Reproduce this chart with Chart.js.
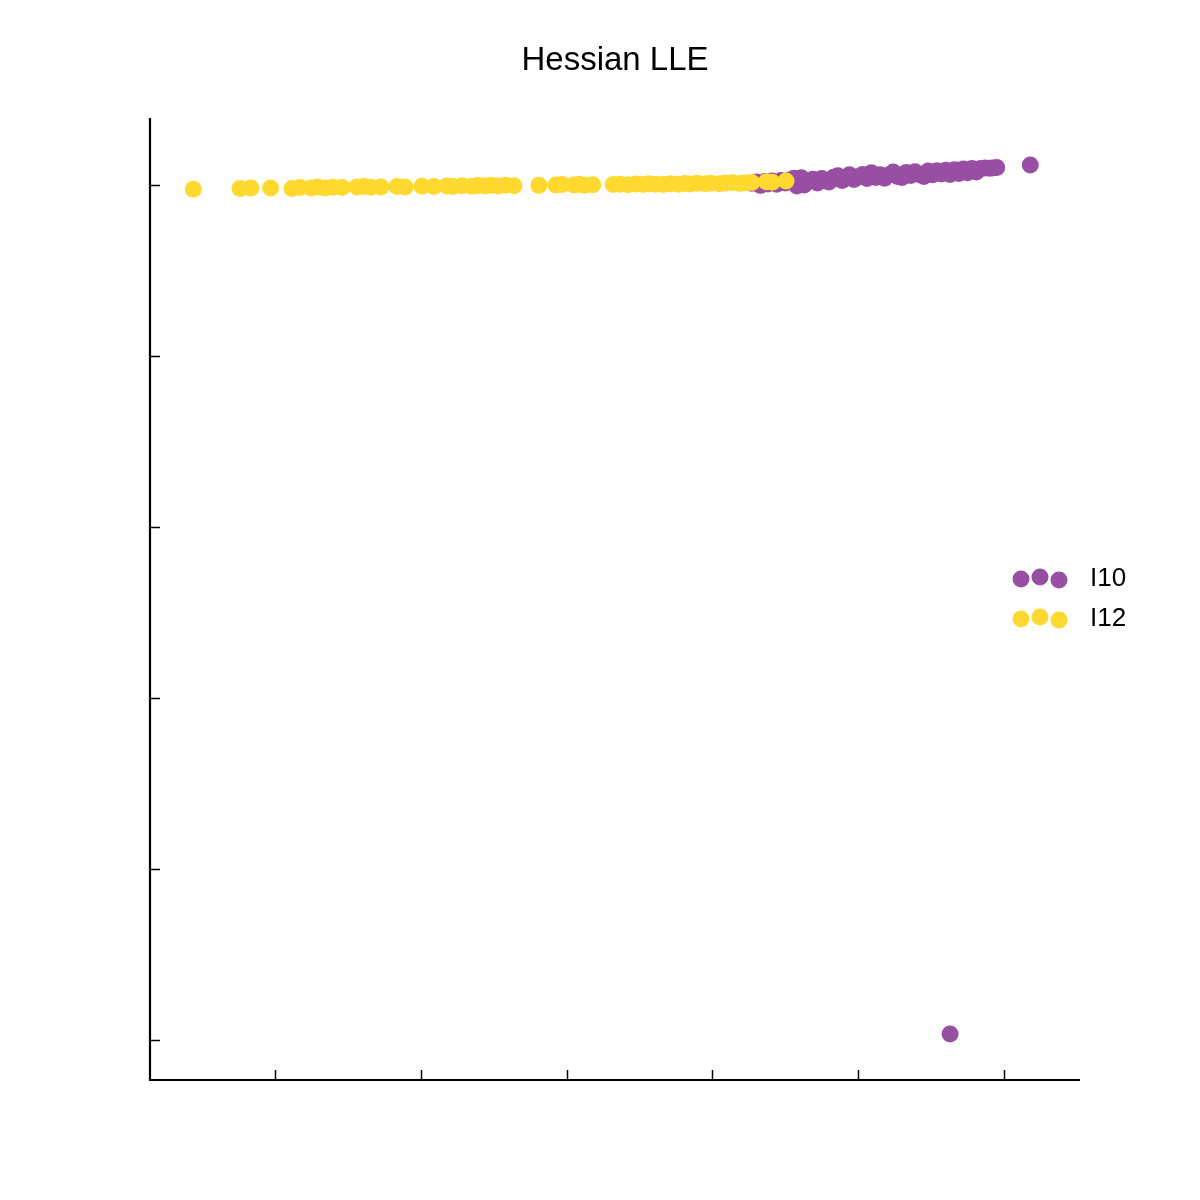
<!DOCTYPE html>
<html>
<head>
<meta charset="utf-8">
<script src="https://cdn.jsdelivr.net/npm/chart.js@4.4.0/dist/chart.umd.min.js"></script>
<style>
  html, body { margin: 0; padding: 0; background: #fff; }
  #wrap { width: 1200px; height: 1200px; }
</style>
</head>
<body>
<div id="wrap"><canvas id="lleChart" width="1200" height="1200"></canvas></div>
<script>
const titulo = "Hessian LLE";
const nombres = ["I10", "I12"];
const colores = ["#984ea3", "#ffd92f"];
const ticksX = [0, 1, 2, 3, 4, 5];
const ticksY = [0, 1, 2, 3, 4, 5];

// I10 (morado)
const i10X = [3.27, 3.30, 3.33, 3.36, 3.38, 3.41, 3.44, 3.47, 3.50, 3.53,
  3.56, 3.58, 3.61, 3.63, 3.66, 3.69, 3.72, 3.75, 3.78, 3.80,
  3.83, 3.86, 3.89, 3.92, 3.94, 3.97, 4.00, 4.03, 4.06, 4.09,
  4.12, 4.15, 4.18, 4.21, 4.24, 4.27, 4.30, 4.33, 4.36, 4.39,
  4.42, 4.45, 4.48, 4.51, 4.54, 4.57, 4.60, 4.63, 4.66, 4.69,
  4.72, 4.75, 4.78, 4.81, 4.84, 4.87, 4.90, 4.92, 4.95, 5.18, 4.63];
const i10Y = [5.010, 5.018, 4.998, 5.020, 5.006, 5.024, 5.004, 5.026, 5.012, 5.030,
  5.040, 4.995, 5.042, 5.000, 5.022, 5.034, 5.012, 5.038, 5.024, 5.018,
  5.046, 5.054, 5.026, 5.042, 5.060, 5.032, 5.048, 5.062, 5.038, 5.072,
  5.044, 5.060, 5.040, 5.058, 5.076, 5.050, 5.044, 5.074, 5.056, 5.078,
  5.062, 5.050, 5.082, 5.060, 5.084, 5.064, 5.086, 5.062, 5.090, 5.068,
  5.094, 5.072, 5.096, 5.076, 5.096, 5.100, 5.098, 5.100, 5.102, 5.117, 0.035];

// I12 (amarillo)
const i12X = [-0.56, -0.24, -0.165, -0.03, 0.117, 0.171, 0.247, 0.295, 0.343, 0.398,
  0.46, 0.562, 0.61, 0.658, 0.727, 0.837, 0.892, 1.008, 1.09, 1.18,
  1.22, 1.283, 1.35, 1.39, 1.44, 1.48, 1.53, 1.58, 1.64, 1.81,
  1.927, 1.97, 2.05, 2.085, 2.126, 2.18, 2.32, 2.366, 2.42, 2.476,
  2.524, 2.565, 2.613, 2.66, 2.71, 2.764, 2.81, 2.846, 2.894, 2.95,
  2.99, 3.05, 3.09, 3.14, 3.19, 3.23, 3.27, 3.37, 3.41, 3.505];
const i12Y = [4.975, 4.980, 4.982, 4.982, 4.980, 4.985, 4.982, 4.988, 4.983, 4.987,
  4.985, 4.989, 4.991, 4.987, 4.988, 4.992, 4.989, 4.993, 4.991, 4.995,
  4.992, 4.996, 4.993, 4.997, 4.994, 4.998, 4.995, 4.999, 4.996, 4.998,
  5.000, 5.003, 5.000, 5.004, 4.999, 5.002, 5.003, 5.005, 5.001, 5.006,
  5.003, 5.007, 5.004, 5.003, 5.008, 5.005, 5.009, 5.006, 5.010, 5.007,
  5.011, 5.008, 5.012, 5.013, 5.009, 5.014, 5.015, 5.019, 5.016, 5.023];

function aPuntos(xs, ys) {
  return xs.map((x, i) => ({ x: x, y: ys[i] }));
}

const fuente = "'Liberation Sans', Arial, sans-serif";

const ejesYLeyenda = {
  id: "ejesYLeyenda",
  beforeDatasetsDraw(chart) {
    const ctx = chart.ctx;
    const area = chart.chartArea;
    const sx = chart.scales.x;
    const sy = chart.scales.y;
    ctx.save();
    ctx.strokeStyle = "#000";
    ctx.lineWidth = 2.2;
    ctx.beginPath();
    ctx.moveTo(area.left, area.top);
    ctx.lineTo(area.left, area.bottom);
    ctx.lineTo(area.right, area.bottom);
    ctx.stroke();
    ctx.lineWidth = 1.5;
    ticksX.forEach((v) => {
      const px = Math.round(sx.getPixelForValue(v)) + 0.5;
      ctx.beginPath();
      ctx.moveTo(px, area.bottom);
      ctx.lineTo(px, area.bottom - 10);
      ctx.stroke();
    });
    ticksY.forEach((v) => {
      const py = Math.round(sy.getPixelForValue(v)) + 0.5;
      ctx.beginPath();
      ctx.moveTo(area.left, py);
      ctx.lineTo(area.left + 10, py);
      ctx.stroke();
    });
    ctx.restore();
  },
  afterDraw(chart) {
    const ctx = chart.ctx;
    const area = chart.chartArea;
    ctx.save();
    ctx.fillStyle = "#000";
    ctx.font = "33px " + fuente;
    ctx.textAlign = "center";
    ctx.textBaseline = "middle";
    ctx.fillText(titulo, (area.left + area.right) / 2, 61);

    // leyenda con tres puntos por serie
    const offsets = [[0, 1], [19, -1], [38, 2]];
    nombres.forEach((nombre, i) => {
      const y0 = 578 + i * 40;
      ctx.fillStyle = colores[i];
      offsets.forEach((o) => {
        ctx.beginPath();
        ctx.arc(1021 + o[0], y0 + o[1], 8.5, 0, Math.PI * 2);
        ctx.fill();
      });
      ctx.fillStyle = "#000";
      ctx.font = "26px " + fuente;
      ctx.textAlign = "left";
      ctx.fillText(nombre, 1090, y0 + 1);
    });
    ctx.restore();
  },
};

new Chart(document.getElementById("lleChart").getContext("2d"), {
  type: "scatter",
  data: {
    datasets: [
      {
        label: nombres[0],
        data: aPuntos(i10X, i10Y),
        backgroundColor: colores[0],
        borderWidth: 0,
        pointRadius: 8.5,
        order: 2,
      },
      {
        label: nombres[1],
        data: aPuntos(i12X, i12Y),
        backgroundColor: colores[1],
        borderWidth: 0,
        pointRadius: 8.5,
        order: 1,
      },
    ],
  },
  options: {
    responsive: false,
    animation: false,
    layout: { padding: { left: 150, right: 120, top: 118, bottom: 120 } },
    plugins: {
      legend: { display: false },
      title: { display: false },
      tooltip: { enabled: false },
    },
    scales: {
      x: { type: "linear", min: -0.857, max: 5.521, display: false },
      y: { type: "linear", min: -0.234, max: 5.392, display: false },
    },
  },
  plugins: [ejesYLeyenda],
});
</script>
</body>
</html>
